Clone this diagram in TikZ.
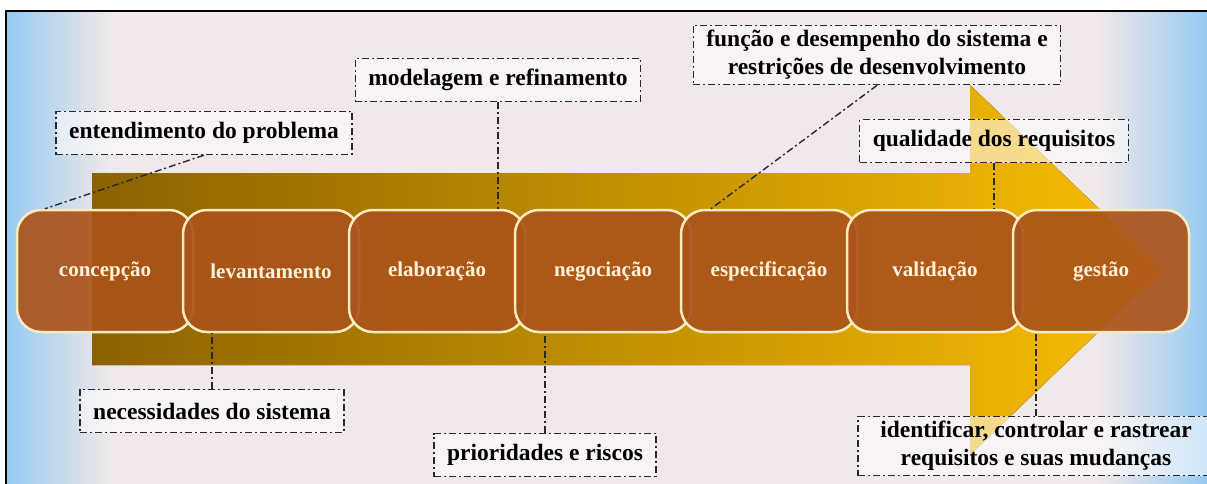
\documentclass[tikz,border=0pt]{standalone}
\usepackage{fontspec}
\setmainfont{Liberation Serif}
\usepackage{tikz}
\usetikzlibrary{positioning}

\definecolor{bgpink}{RGB}{240,232,233}
\definecolor{skyblue}{RGB}{150,202,242}
\definecolor{arrowdark}{RGB}{140,98,0}
\definecolor{arrowgold}{RGB}{250,190,5}
\definecolor{stagebrown}{RGB}{170,84,26}
\definecolor{stagerim}{RGB}{248,236,190}
\definecolor{stagetext}{RGB}{255,242,220}
\definecolor{notegray}{RGB}{40,40,40}

\begin{document}
\begin{tikzpicture}[x=1pt,y=-1pt,node distance=166pt,on grid,
  stage/.style={rectangle,rounded corners=24pt,draw=stagerim,line width=2.5pt,fill=stagebrown,fill opacity=0.92,text opacity=1,minimum width=176pt,minimum height=122pt,text=stagetext,font=\bfseries\fontsize{21}{24}\selectfont},
  note/.style={draw=notegray,line width=1.4pt,dash pattern=on 7pt off 3pt on 2pt off 3pt,fill=white,fill opacity=0.55,text opacity=1,text=black,font=\bfseries\fontsize{23.5}{28}\selectfont,inner xsep=13pt,inner ysep=5pt,minimum height=43pt}]
\clip (0,0) rectangle (1207,484);
\fill[white] (0,0) rectangle (1207,484);
\fill[bgpink] (6,11) rectangle (1207,484);
\fill[left color=skyblue,right color=bgpink] (6,11) rectangle (110,484);
\fill[left color=bgpink,right color=skyblue] (1100,11) rectangle (1207,484);
\draw[line width=2pt] (6,11) rectangle (1220,500);
\fill[left color=arrowdark,right color=arrowgold] (92,173) -- (970,173) -- (970,85) -- (1163,270) -- (970,455) -- (970,365) -- (92,365) -- cycle;

  \node[stage] (concepcao)     at (105,271)              {concepção};
  \node[stage] (levantamento)  [right =of concepcao]     {levantamento};
  \node[stage] (elaboracao)    [right =of levantamento]  {elaboração};
  \node[stage] (negociacao)    [right =of elaboracao]    {negociação};
  \node[stage] (especificacao) [right =of negociacao]    {especificação};
  \node[stage] (validacao)     [right =of especificacao] {validação};
  \node[stage] (gestao)        [right =of validacao]     {gestão};

  \node[note] (entendimento) at (204,133) {entendimento do problema};
  \node[note] (modelagem)    at (498,80)  {modelagem e refinamento};
  \node[note,align=center]   (funcao) at (877,55) {função e desempenho do sistema e\\restrições de desenvolvimento};
  \node[note] (qualidade)    at (994,141) {qualidade dos requisitos};
  \node[note] (necessidades) at (212,411) {necessidades do sistema};
  \node[note] (prioridades)  at (545,455) {prioridades e riscos};
  \node[note,align=center,minimum width=356pt] (identificar) at (1036,446) {identificar, controlar e rastrear\\requisitos e suas mudanças};
\tikzset{link/.style={draw=notegray,line width=1.4pt,dash pattern=on 7pt off 3pt on 2pt off 3pt}}
\path (entendimento.south) edge [link] (concepcao.134);
\path (modelagem.south)    edge [link] (modelagem.south |- elaboracao.north);
\path (funcao.south)       edge [link] (especificacao.133);
\path (qualidade.south)    edge [link] (qualidade.south |- validacao.north);
\path (necessidades.north) edge [link] (necessidades.north |- levantamento.south);
\path (prioridades.north)  edge [link] (prioridades.north |- negociacao.south);
\path (identificar.north)  edge [link] (identificar.north |- gestao.south);
\end{tikzpicture}
\end{document}
